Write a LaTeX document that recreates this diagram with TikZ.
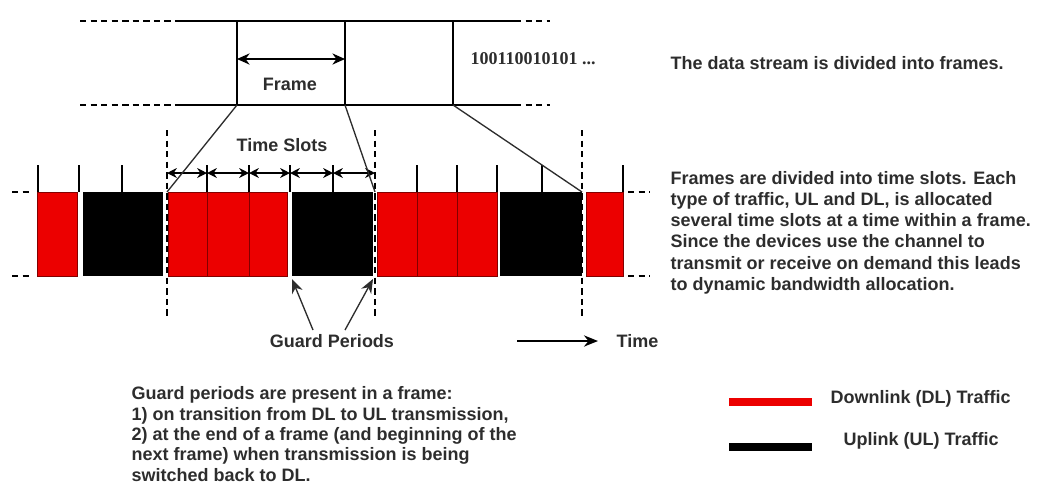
\documentclass[tikz,border=0pt]{standalone}
\usepackage{fontspec}
\setmainfont{Liberation Sans}
\newfontfamily\bitsfont{Liberation Serif}
\usetikzlibrary{arrows.meta}
\definecolor{dlred}{RGB}{236,0,0}
\definecolor{ink}{RGB}{45,45,45}

\begin{document}
\begin{tikzpicture}[x=0.025cm,y=-0.025cm,line width=0.95pt,
  txt/.style={font=\fontsize{12.8}{15}\selectfont\bfseries,text=ink,inner sep=0pt},
  dl/.style={fill=dlred,draw=dlred!55!black,line width=0.5pt},
  ul/.style={fill=black},
  gapline/.style={dash pattern=on 4.5pt off 3pt},
  span/.style={{Stealth[length=7pt,width=7pt]}-{Stealth[length=7pt,width=7pt]}},
  pointer/.style={-{Stealth[length=10pt,width=8pt]},ink}]
\useasboundingbox (0,0) rectangle (1041,483);

% the data stream and its frames
\draw[gapline] (80,21) -- (177,21) (80,105) -- (177,105);
\draw (177,21) -- (515,21) (177,105) -- (515,105);
\draw[gapline] (515,21) -- (550,21) (515,105) -- (550,105);
\foreach \x/\n in {237/a,345/b,453/c}
  \draw (\x,21) -- (\x,105) coordinate (f\n);
\draw[{Stealth[length=9pt,width=8pt]}-{Stealth[length=9pt,width=8pt]}] (237,59) -- (345,59);
\node[txt] (framelbl) at (290,84) {Frame};
\node[txt,font=\fontsize{12.8}{15}\selectfont\bfseries\bitsfont,anchor=west] (bits) at (470,59) {100110010101 ...};
\node[txt,anchor=west] (note1) at (670,63) {The data stream is divided into frames.};

% frame borders in the slot row
\foreach \x/\n in {167/0,375/5,582/10} {
  \coordinate (s\n) at (\x,192);
  \draw[gapline] (\x,130) -- (\x,317);
}

% slots: DL red, UL black
\foreach \a/\b in {37/77,168/207,207/249,249/287,377/417,417/457,457/497,586/623}
  \draw[dl] (\a,192) rectangle (\b,276);
\foreach \a/\b in {83/163,292/373,500/582}
  \fill[ul] (\a,192) rectangle (\b,276);
\draw[gapline] (12,192) -- (33,192) (12,276) -- (33,276);
\draw[gapline] (628,192) -- (650,192) (628,276) -- (650,276);

% slot ticks
\foreach \x in {38,79,122,207,249,290,333,417,457,497,542,623}
  \draw (\x,165) -- (\x,192);
\foreach \a/\b in {167/207,207/249,249/290,290/333,333/375}
  \draw[span] (\a,173) -- (\b,173);
\node[txt] (slotlbl) at (282,145) {Time Slots};

% frames mapped onto the slot row
\draw[ink] (fa) -- (s0);
\draw[ink] (fb) -- (s5);
\draw[ink] (fc) -- (s10);

% guard periods
\node[txt] (guard) at (332,341) {Guard Periods};
\coordinate (g1) at (313,330);
\coordinate (g2) at (345,330);
\draw[pointer] (g1) -- (292,279);
\draw[pointer] (g2) -- (373,279);

% time axis
\coordinate (t0) at (517,341);
\coordinate (t1) at (598,341);
\node[txt,anchor=west] (timelbl) at (616,341) {Time};
\draw[pointer,black,line width=1.3pt] (t0) -- (t1);

\node[txt,anchor=north west,align=left] (note2) at (670,171)
  {Frames are divided into time slots. Each\\
   type of traffic, UL and DL, is allocated\\
   several time slots at a time within a frame.\\
   Since the devices use the channel to\\
   transmit or receive on demand this leads\\
   to dynamic bandwidth allocation.};

\node[txt,anchor=north west,align=left,font=\fontsize{12.8}{14.5}\selectfont\bfseries] (note3) at (131,386)
  {Guard periods are present in a frame:\\
   1) on transition from DL to UL transmission,\\
   2) at the end of a frame (and beginning of the\\
   next frame) when transmission is being\\
   switched back to DL.};

% legend
\draw[dlred,line width=5pt] (729,402) -- (812,402);
\draw[black,line width=5pt] (729,447) -- (812,447);
\node[txt,anchor=west] (dlkey) at (830,399) {Downlink (DL) Traffic};
\node[txt,anchor=west] (ulkey) at (843,441) {Uplink (UL) Traffic};
\end{tikzpicture}
\end{document}
